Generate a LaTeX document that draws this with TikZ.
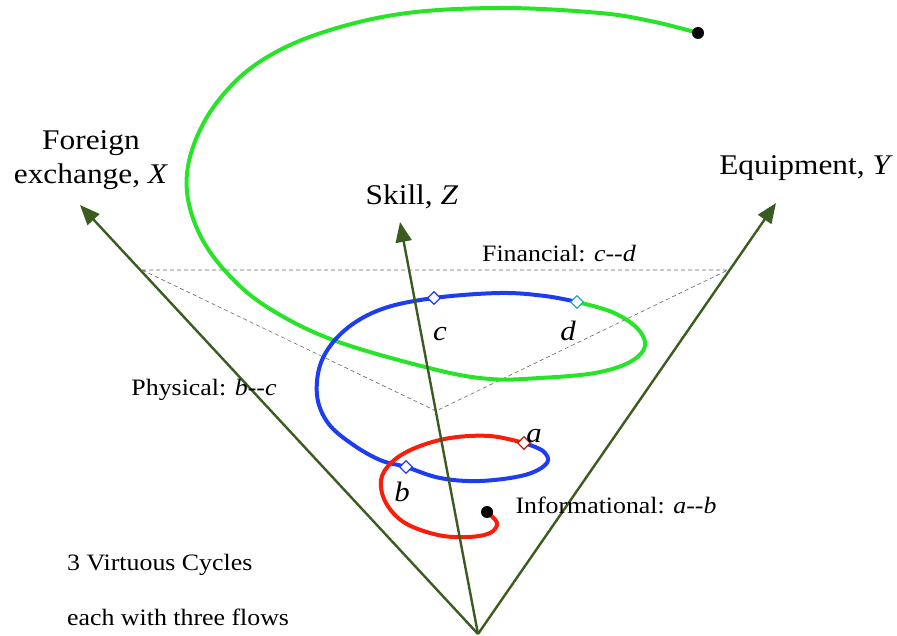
\documentclass[tikz,border=0pt]{standalone}
\usepackage{fontspec}
\setmainfont[FakeStretch=1.1]{Liberation Serif}
\usetikzlibrary{arrows.meta,shapes.geometric}

\definecolor{axisgreen}{RGB}{58,92,32}
\definecolor{cycgreen}{RGB}{40,228,40}
\definecolor{cycblue}{RGB}{30,60,240}
\definecolor{cycred}{RGB}{250,30,10}
\definecolor{cycteal}{RGB}{40,170,170}

\begin{document}
\begin{tikzpicture}[x=1pt, y=-1pt,
  big/.style={font=\fontsize{28.5}{34}\selectfont, align=center, inner sep=0pt},
  lab/.style={font=\fontsize{23.5}{28}\selectfont, inner sep=0pt},
  let/.style={font=\fontsize{28}{30}\selectfont\itshape, inner sep=0pt},
  axis/.style={draw=axisgreen, line width=2.4pt, -{Triangle[length=20pt,width=16pt]}},
  guide/.style={draw=black!60, line width=0.6pt, dash pattern=on 4pt off 3pt},
  cyc/.style={line width=4pt, line cap=round, line join=round},
  pt/.style={diamond, draw=#1, fill=white, line width=1.3pt, inner sep=0pt, minimum size=13pt},
  blob/.style={circle, fill=black, inner sep=0pt, minimum size=12pt}]

  \useasboundingbox (0,0) rectangle (897,636);

  % --- axes from the common origin ---
  \coordinate (o) at (478,634);
  \coordinate (xt) at (80,205);
  \coordinate (zt) at (400,222);
  \coordinate (yt) at (776,203);

  % --- dashed plane through the financial cycle ---
  \coordinate (g1) at (142,270);
  \coordinate (g2) at (728,270);
  \coordinate (g3) at (436,411);
  \draw[guide] (g1) -- (g2) -- (g3) -- cycle;

  % --- the three cycles ---
  \draw[cyc, cycgreen] plot[smooth, tension=0.6] coordinates {(577,302) (612,312) (637,328) (645,346) (630,362) (595,373) (540,378) (490,379) (433,369) (333,340) (267,307) (227,273) (200,235) (187,192) (192,150) (215,105) (255,65) (315,35) (400,14) (500,8) (600,13) (655,22) (698,33)};
  \draw[cyc, cycblue] plot[smooth, tension=0.6] coordinates {(524,443) (543,451) (547,463) (525,475) (480,481) (440,478) (406,467) (380,460) (352,444) (328,423) (317,395) (322,360) (345,330) (382,309) (434,298) (500,293) (545,296) (577,302)};
  \draw[cyc, cycred] plot[smooth, tension=0.6] coordinates {(487,512) (497,523) (490,533) (468,537) (438,535) (405,523) (386,503) (381,480) (392,462) (415,448) (450,438) (490,436) (524,443)};

  \node[blob] (start) at (487,512) {};
  \node[blob] (stop) at (698,33) {};

  \node[pt=cycred!80!black] (pa) at (524,443) {};
  \node[pt=cycblue] (pb) at (406,467) {};
  \node[pt=cycblue] (pc) at (434,298) {};
  \node[pt=cycteal] (pd) at (577,302) {};

  \node[let] (la) at (534,436) {a};
  \node[let] (lb) at (402,492) {b};
  \node[let] (lc) at (440,334) {c};
  \node[let] (ld) at (568,331) {d};

  \draw[axis] (o) -- (xt);
  \draw[axis] (o) -- (zt);
  \draw[axis] (o) -- (yt);

  % --- axis labels ---
  \node[big] (xlab) at (91,160) {Foreign\\exchange, \textit{X}};
  \node[big] (zlab) at (412,197) {Skill, \textit{Z}};
  \node[big] (ylab) at (806,168) {Equipment, \textit{Y}};

  % --- flow labels ---
  \node[lab] (fin) at (559,254) {Financial: \textit{c}-{}-\textit{d}};
  \node[lab] (phy) at (204,390) {Physical: \textit{b}-{}-\textit{c}};
  \node[lab] (inf) at (616,505) {Informational: \textit{a}-{}-\textit{b}};

  \node[lab, anchor=west] (note1) at (67,565) {3 Virtuous Cycles};
  \node[lab, anchor=west] (note2) at (67,617) {each with three flows};
\end{tikzpicture}
\end{document}
